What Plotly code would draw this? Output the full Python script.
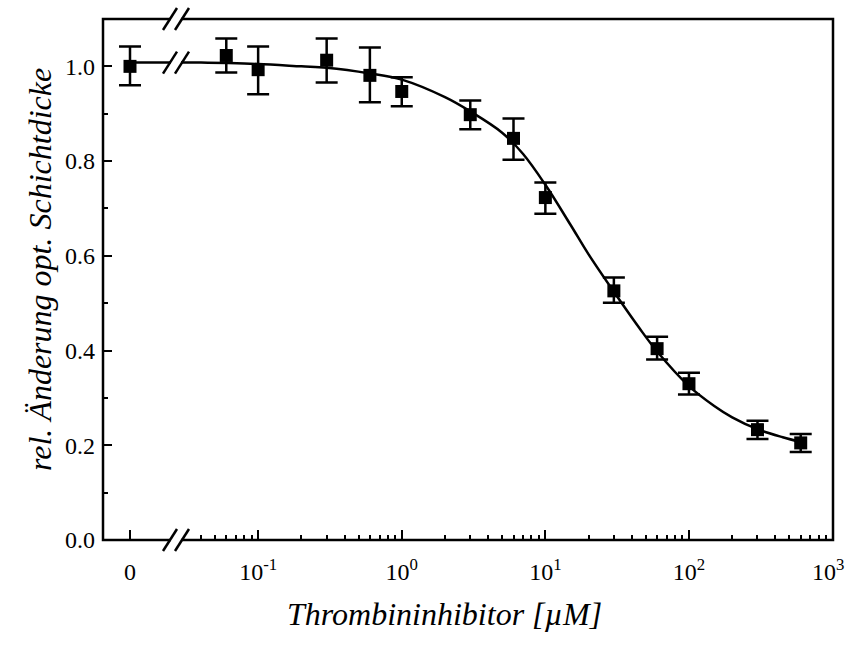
import math
import plotly.graph_objects as go

# Measured layer-thickness change vs. thrombin inhibitor concentration
conc = [0, 0.06, 0.1, 0.3, 0.6, 1, 3, 6, 10, 30, 60, 100, 300, 600]
resp = [1.000, 1.023, 0.993, 1.013, 0.981, 0.947, 0.898, 0.848, 0.723,
        0.526, 0.404, 0.330, 0.233, 0.205]
err_up = [0.042, 0.036, 0.049, 0.046, 0.059, 0.030, 0.030, 0.042, 0.032,
          0.028, 0.025, 0.023, 0.019, 0.019]
err_dn = [0.040, 0.036, 0.052, 0.047, 0.057, 0.031, 0.031, 0.045, 0.034,
          0.025, 0.023, 0.023, 0.020, 0.019]

# Fitted dose-response curve (sampled)
fit_plateau = 1.008
fit_conc = [0.027, 0.04, 0.06, 0.1, 0.2, 0.3, 0.6, 1, 2, 3, 5, 7, 10, 15,
            20, 30, 45, 60, 100, 150, 200, 300, 450, 600]
fit_resp = [1.008, 1.008, 1.007, 1.005, 1.000, 0.997, 0.985, 0.972, 0.935,
            0.905, 0.860, 0.815, 0.750, 0.665, 0.603, 0.524, 0.448, 0.398,
            0.325, 0.283, 0.259, 0.234, 0.217, 0.207]

major_ticks = [0.1, 1, 10, 100, 1000]
major_text = ["10<sup>-1</sup>", "10<sup>0</sup>", "10<sup>1</sup>",
              "10<sup>2</sup>", "10<sup>3</sup>"]
minor_ticks = [m * 10 ** e for e in range(-2, 3) for m in range(2, 10)
               if m * 10 ** e >= 0.04]
y_ticks = [0.0, 0.2, 0.4, 0.6, 0.8, 1.0]

x_title = "Thrombininhibitor [µM]"
y_title = "rel. Änderung opt. Schichtdicke"

FONT = "'Liberation Serif', 'Times New Roman', Times, serif"
BLACK = "black"

# plot-area geometry (pixels) for placing the axis-break marks and titles
L, R, T, B = 103, 12, 19, 108
FIG_W, FIG_H = 845, 648
PW, PH = FIG_W - L - R, FIG_H - T - B
Y_MAX = 1.1
ZERO_RANGE = [-0.5, 0.852]
LOG_RANGE = [-1.572, 3.003]
SPLIT = 0.1


def px_x(p):
    return (p - L) / PW


def px_y(p):
    return (FIG_H - B - p) / PH


def px_dy(p):
    return p / PH


fig = go.Figure()

zero_idx = [i for i, c in enumerate(conc) if c == 0]
log_idx = [i for i, c in enumerate(conc) if c > 0]

# plateau of the fit in the zero segment
fig.add_trace(go.Scatter(
    x=[0, ZERO_RANGE[1]], y=[fit_plateau, fit_plateau], mode="lines",
    line=dict(color=BLACK, width=2.5), xaxis="x", yaxis="y",
    showlegend=False, hoverinfo="skip"))

fig.add_trace(go.Scatter(
    x=fit_conc, y=fit_resp, mode="lines",
    line=dict(color=BLACK, width=2.5, shape="spline"),
    xaxis="x2", yaxis="y", showlegend=False))

marker = dict(symbol="square", size=13, color=BLACK)
for idx, ax in ((zero_idx, "x"), (log_idx, "x2")):
    fig.add_trace(go.Scatter(
        x=[conc[i] for i in idx], y=[resp[i] for i in idx], mode="markers",
        marker=marker, xaxis=ax, yaxis="y", showlegend=False,
        error_y=dict(type="data", symmetric=False,
                     array=[err_up[i] for i in idx],
                     arrayminus=[err_dn[i] for i in idx],
                     color=BLACK, thickness=2.5, width=11)))

tickfont = dict(family=FONT, size=24, color=BLACK)
titlefont = dict(family=FONT, size=32, color=BLACK, style="italic")

# the last decade label sits at the right edge; it is drawn as an
# annotation nudged left so it stays inside the figure
axis_text = major_text[:-1] + [""]

fig.update_layout(
    width=FIG_W, height=FIG_H,
    font=dict(family=FONT, color=BLACK),
    margin=dict(l=L, r=R, t=T, b=B, autoexpand=False),
    paper_bgcolor="white", plot_bgcolor="white",
    xaxis=dict(domain=[0, SPLIT], range=ZERO_RANGE, tickvals=[0],
               ticktext=["0"], ticks="inside", ticklen=10, tickwidth=2,
               tickcolor=BLACK, showgrid=False, zeroline=False,
               showline=False, tickfont=tickfont, ticklabelstandoff=15,
               anchor="y"),
    xaxis2=dict(domain=[SPLIT, 1], type="log", range=LOG_RANGE,
                tickvals=major_ticks, ticktext=axis_text,
                ticks="inside", ticklen=10, tickwidth=2, tickcolor=BLACK,
                minor=dict(tickvals=minor_ticks, ticks="inside", ticklen=5,
                           tickwidth=1.5, tickcolor=BLACK, showgrid=False),
                showgrid=False, zeroline=False, showline=False,
                tickfont=tickfont, ticklabelstandoff=15, anchor="y"),
    yaxis=dict(range=[0, Y_MAX], tickvals=y_ticks,
               ticktext=[f"{v:.1f}" for v in y_ticks],
               ticks="inside", ticklen=9, tickwidth=2, tickcolor=BLACK,
               minor=dict(dtick=0.1, ticks="inside", ticklen=5,
                          tickwidth=2, tickcolor=BLACK, showgrid=False),
               showgrid=False, zeroline=False, showline=False,
               tickfont=tickfont, ticklabelstandoff=7, anchor="x"),
    annotations=[
        dict(text=x_title, xref="paper", yref="paper", x=px_x(444),
             y=px_y(614), xanchor="center", yanchor="middle",
             showarrow=False, font=titlefont),
        dict(text=y_title, xref="paper", yref="paper", x=px_x(40),
             y=px_y(270), xanchor="center", yanchor="middle",
             textangle=-90, showarrow=False, font=titlefont),
        dict(text=major_text[-1], xref="x2", yref="paper",
             x=math.log10(major_ticks[-1]), y=px_y(570),
             xanchor="center", yanchor="middle", xshift=-5,
             showarrow=False, font=tickfont),
    ],
)

shapes = []
# frame
shapes.append(dict(type="rect", xref="paper", yref="paper", x0=0, y0=0,
                   x1=1, y1=1, line=dict(color=BLACK, width=2.5),
                   fillcolor="rgba(0,0,0,0)", layer="above"))

# axis-break marks: gap + two slashes at bottom, top and on the curve
gap0, gap1 = px_x(171), px_x(181)
s1, s2 = 170, 182
hx, hy = 7, 11
for yc, yref in ((0, "paper"), (1, "paper"), (fit_plateau, "y")):
    dy = px_dy(hy) if yref == "paper" else hy / PH * Y_MAX
    my = px_dy(6) if yref == "paper" else 6 / PH * Y_MAX
    shapes.append(dict(type="rect", xref="paper", yref=yref,
                       x0=gap0, x1=gap1, y0=yc - my, y1=yc + my,
                       fillcolor="white", line=dict(width=0), layer="above"))
    for sx in (s1, s2):
        shapes.append(dict(type="line", xref="paper", yref=yref,
                           x0=px_x(sx - hx), y0=yc - dy,
                           x1=px_x(sx + hx), y1=yc + dy,
                           line=dict(color=BLACK, width=2.5), layer="above"))

fig.update_layout(shapes=shapes)

fig.write_html("out.html")
